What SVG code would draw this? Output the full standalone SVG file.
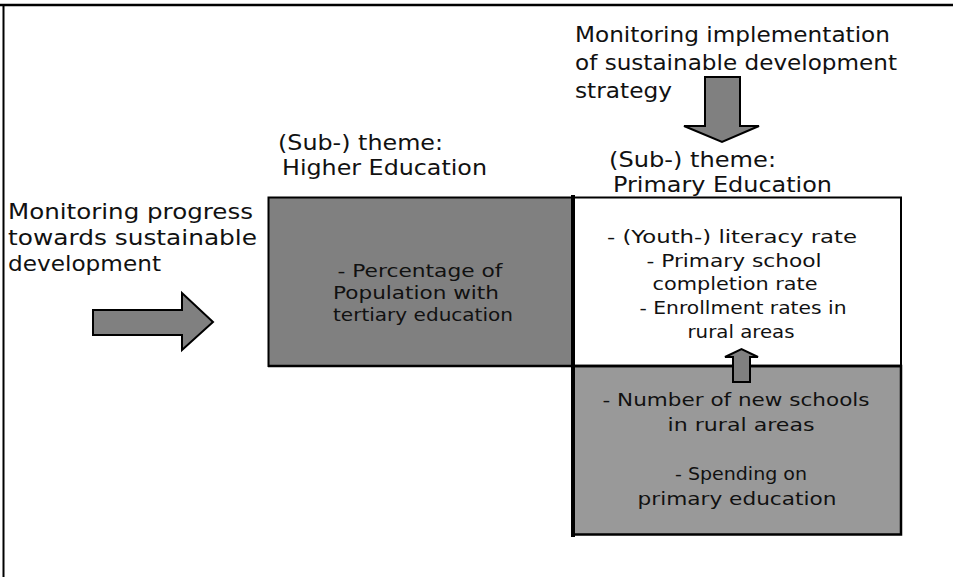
<svg xmlns="http://www.w3.org/2000/svg" width="953" height="577" viewBox="0 0 953 577">
<style>
text{font-family:"DejaVu Sans","Verdana",sans-serif;fill:#111;}
.lbl{font-size:22px;}
.box{font-size:18.5px;text-anchor:middle;}
.arr{fill:#808080;stroke:#000;stroke-width:2;stroke-linejoin:miter;}
</style>
<rect width="953" height="577" fill="#fff"/>
<g id="frame" stroke="#000" fill="none">
<line x1="0" y1="5" x2="953" y2="5" stroke-width="2.5"/>
<line x1="3.5" y1="5" x2="3.5" y2="577" stroke-width="2"/>
</g>
<g id="label-progress">
<text x="8" y="219" class="lbl" textLength="245" lengthAdjust="spacingAndGlyphs">Monitoring progress</text>
<text x="8" y="245" class="lbl" textLength="249" lengthAdjust="spacingAndGlyphs">towards sustainable</text>
<text x="8" y="271" class="lbl" textLength="153" lengthAdjust="spacingAndGlyphs">development</text>
</g>
<g id="label-implementation">
<text x="575" y="42" class="lbl" textLength="315" lengthAdjust="spacingAndGlyphs">Monitoring implementation</text>
<text x="575" y="70" class="lbl" textLength="322" lengthAdjust="spacingAndGlyphs">of sustainable development</text>
<text x="575" y="98" class="lbl" textLength="97" lengthAdjust="spacingAndGlyphs">strategy</text>
</g>
<g id="theme-higher">
<text x="278" y="150" class="lbl" textLength="165" lengthAdjust="spacingAndGlyphs">(Sub-) theme:</text>
<text x="282" y="175" class="lbl" textLength="205" lengthAdjust="spacingAndGlyphs">Higher Education</text>
</g>
<g id="theme-primary">
<text x="609" y="167" class="lbl" textLength="167" lengthAdjust="spacingAndGlyphs">(Sub-) theme:</text>
<text x="613" y="192" class="lbl" textLength="219" lengthAdjust="spacingAndGlyphs">Primary Education</text>
</g>
<g id="box-higher">
<rect x="268.5" y="197.5" width="304" height="168.5" fill="#808080" stroke="#000" stroke-width="2"/>
<text x="420" y="277" class="box" textLength="165" lengthAdjust="spacingAndGlyphs">- Percentage of</text>
<text x="416" y="299" class="box" textLength="166" lengthAdjust="spacingAndGlyphs">Population with</text>
<text x="423" y="321" class="box" textLength="180" lengthAdjust="spacingAndGlyphs">tertiary education</text>
</g>
<g id="box-primary-outcome">
<rect x="573" y="197.5" width="328" height="168.5" fill="#fff" stroke="#000" stroke-width="2"/>
<text x="732" y="243" class="box" textLength="250" lengthAdjust="spacingAndGlyphs">- (Youth-) literacy rate</text>
<text x="734" y="267" class="box" textLength="175" lengthAdjust="spacingAndGlyphs">- Primary school</text>
<text x="735" y="290" class="box" textLength="165" lengthAdjust="spacingAndGlyphs">completion rate</text>
<text x="743" y="314" class="box" textLength="207" lengthAdjust="spacingAndGlyphs">- Enrollment rates in</text>
<text x="741" y="338" class="box" textLength="107" lengthAdjust="spacingAndGlyphs">rural areas</text>
</g>
<g id="box-primary-input">
<rect x="573" y="366" width="328" height="168.5" fill="#999" stroke="#000" stroke-width="2.5"/>
<text x="736" y="406" class="box" textLength="267" lengthAdjust="spacingAndGlyphs">- Number of new schools</text>
<text x="741" y="431" class="box" textLength="147" lengthAdjust="spacingAndGlyphs">in rural areas</text>
<text x="741" y="480" class="box" textLength="132" lengthAdjust="spacingAndGlyphs">- Spending on</text>
<text x="737" y="505" class="box" textLength="199" lengthAdjust="spacingAndGlyphs">primary education</text>
</g>
<g id="connectors">
<line x1="573" y1="195" x2="573" y2="537" stroke="#000" stroke-width="4"/>
<line x1="268" y1="366" x2="901" y2="366" stroke="#000" stroke-width="2.5"/>
<polygon class="arr" points="93,310 182,310 182,293 213,322 182,350 182,335 93,335"/>
<polygon class="arr" points="705,77 740,77 740,126 759,126 722,142 684,126 705,126"/>
<polygon class="arr" points="733,382 733,357 725,357 741.5,349 758,357 750,357 750,382"/>
</g>
</svg>
